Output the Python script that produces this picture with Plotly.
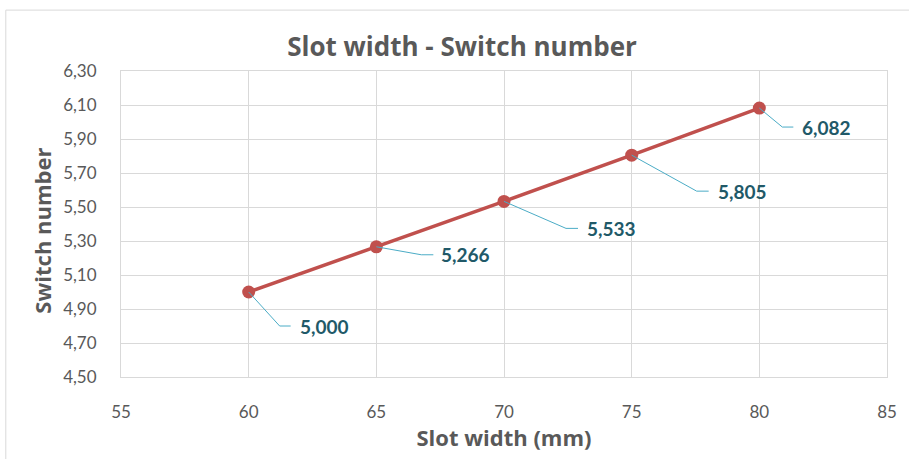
import plotly.graph_objects as go

# Data
slot_width = [60, 65, 70, 75, 80]
switch_number = [5.000, 5.266, 5.533, 5.805, 6.082]
x_ticks = [55, 60, 65, 70, 75, 80, 85]
y_ticks = [4.50, 4.70, 4.90, 5.10, 5.30, 5.50, 5.70, 5.90, 6.10, 6.30]

title_text = "Slot width - Switch number"
x_title = "Slot width (mm)"
y_title = "Switch number"

# Label placement (pixel offsets from marker: elbow dx, dy, horizontal end dx, text dx)
label_offsets = [
    (31, 34, 42, 49),
    (45, 8, 57, 63),
    (62, 27, 74, 81),
    (65, 36, 77, 84),
    (23, 19, 34, 41),
]

FONT = "Lato"
TFONT = "Open Sans"
GRAY = "#595959"
RED = "#C0504D"
TEAL_TEXT = "#215968"
TEAL_LINE = "#4BACC6"
GRID = "#D9D9D9"

fig = go.Figure()
fig.add_trace(go.Scatter(
    x=slot_width, y=switch_number, mode="lines+markers",
    line=dict(color=RED, width=3.5),
    marker=dict(color=RED, size=13),
    hoverinfo="skip", showlegend=False,
))

# layout geometry
W, H = 909, 459
ml, mr, mt, mb = 121, 20, 71, 79
pw, ph = W - ml - mr, H - mt - mb
def px_x(p):
    return (p - ml) / pw
def px_y(p):
    return (H - mb - p) / ph

shapes = []
annotations = []
for xv, yv, (ex, ey, hx, tx) in zip(slot_width, switch_number, label_offsets):
    shapes.append(dict(
        type="path", xref="x", yref="y", xsizemode="pixel", ysizemode="pixel",
        xanchor=xv, yanchor=yv,
        path=f"M0,0 L{ex},{-ey} L{hx},{-ey}",
        line=dict(color=TEAL_LINE, width=1),
    ))
    annotations.append(dict(
        x=xv, y=yv, xref="x", yref="y", showarrow=False,
        text=f"<b>{yv:.3f}</b>".replace(".", ","),
        xanchor="left", yanchor="middle", xshift=tx, yshift=-ey,
        font=dict(family=FONT, size=19, color=TEAL_TEXT),
    ))

# y-axis title as annotation (to match vertical placement)
annotations.append(dict(
    x=px_x(42), y=px_y(232), xref="paper", yref="paper", showarrow=False,
    text=f"<b>{y_title}</b>", textangle=-90, xanchor="center", yanchor="middle",
    font=dict(family=TFONT, size=22, color=GRAY),
))

# outer chart border
shapes.append(dict(type="rect", xref="paper", yref="paper",
                   x0=px_x(5.5), x1=px_x(W + 10), y0=px_y(H + 10), y1=px_y(9.5),
                   line=dict(color=GRID, width=1), layer="below"))

fig.update_layout(
    width=W, height=H,
    margin=dict(l=ml, r=mr, t=mt, b=mb),
    paper_bgcolor="white", plot_bgcolor="white",
    separators=", ",
    font=dict(family=FONT, color=GRAY),
    title=dict(text=f"<b>{title_text}</b>", x=462 / W, xanchor="center", xref="container",
               y=1 - 47 / H, yanchor="middle",
               font=dict(family=TFONT, size=26, color=GRAY)),
    shapes=shapes,
    annotations=annotations,
)
fig.update_xaxes(
    range=[55, 85], tickvals=x_ticks, showgrid=True, gridcolor=GRID, gridwidth=1,
    showline=True, linecolor=GRID, mirror=True, zeroline=False,
    ticks="", ticklabelstandoff=20,
    tickfont=dict(family=FONT, size=17, color=GRAY),
    title=dict(text=f"<b>{x_title}</b>", standoff=9,
               font=dict(family=TFONT, size=22, color=GRAY)),
)
fig.update_yaxes(
    range=[4.5, 6.3], tickvals=y_ticks, tickformat=".2f", showgrid=True, gridcolor=GRID,
    gridwidth=1, showline=True, linecolor=GRID, mirror=True, zeroline=False,
    ticks="", ticklabelstandoff=20,
    tickfont=dict(family=FONT, size=17, color=GRAY),
)

fig.write_html("out.html")
